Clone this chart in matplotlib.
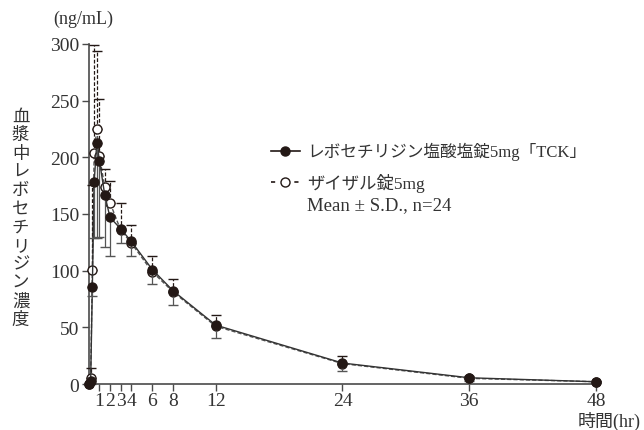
import matplotlib
matplotlib.use("Agg")
import matplotlib.pyplot as plt
import numpy as np

plt.rcParams['font.family'] = ['Liberation Serif', 'Noto Sans CJK JP']

# sampling times (hr)
times = [0, 0.17, 0.33, 0.5, 0.75, 1, 1.5, 2, 3, 4, 6, 8, 12, 24, 36, 48]

# レボセチリジン塩酸塩錠5mg「TCK」 (filled)
tck_mean = [0, 3, 86, 178, 213, 197, 167, 147, 137, 126, 101, 82, 52, 18.5, 5.5, 2]
tck_sd = [0, 3, 8, 49, 84, 67, 46, 34, 13, 13, 13, 12, 11, 7, 2.5, 1]

# ザイザル錠5mg (open)
xyzal_mean = [0, 5, 101, 204, 225, 201, 174, 160, 136, 124.5, 99, 81, 51, 18, 5, 2]
xyzal_sd = [0, 9, 75, 95, 69, 50, 16, 19, 24, 16, 14, 12, 10, 6.5, 2, 1]

xticks = [1, 2, 3, 4, 6, 8, 12, 24, 36, 48]
yticks = [0, 50, 100, 150, 200, 250, 300]

ink = '#231815'
axcol = '#4a4a4a'

fig = plt.figure(figsize=(6.44, 4.31), dpi=100)
ax = fig.add_axes([0.138, 0.1067, 0.7875, 0.789])

zeros = np.zeros(len(times))

# open series: upper SD, dashed
eb = ax.errorbar(times, xyzal_mean, yerr=[zeros, xyzal_sd], fmt='o', ms=6.5,
                 mfc='white', mec=ink, mew=1.0, ecolor=ink, elinewidth=0.9,
                 capsize=3.5, capthick=0.9, color=ink, clip_on=False, zorder=3)
for c in eb[2]:
    c.set_linestyle((0, (3, 1.5)))
    c.set_clip_on(False)
for c in eb[1]:
    c.set_clip_on(False)
ax.plot(times, xyzal_mean, ls=(0, (3, 1.5)), color='#555555', lw=1.0, zorder=2, clip_on=False)

# filled series: lower SD, solid
eb2 = ax.errorbar(times, tck_mean, yerr=[tck_sd, zeros], fmt='o', ms=6.5,
                  mfc=ink, mec=ink, mew=1.0, ecolor='#555555', elinewidth=0.9,
                  capsize=3.5, capthick=0.9, color=ink, clip_on=False, zorder=4)
for c in eb2[1]:
    c.set_clip_on(False)
ax.plot(times, tck_mean, ls='-', color='#333333', lw=1.0, zorder=3.5, clip_on=False)

ax.set_xlim(0, 48)
ax.set_ylim(0, 300)
ax.set_xticks(xticks)
ax.set_xticklabels([str(t) for t in xticks])
ax.set_yticks(yticks)
ax.set_yticklabels([str(t) for t in yticks])
for s in ['top', 'right']:
    ax.spines[s].set_visible(False)
for s in ['left', 'bottom']:
    ax.spines[s].set_color(axcol)
    ax.spines[s].set_linewidth(1.2)
ax.tick_params(axis='both', colors=axcol, labelcolor='#333333', labelsize=14,
               length=5, width=1.0, pad=2)
ax.tick_params(axis='x', pad=1)

# axis titles
fig.text(0.083, 0.955, '(ng/mL)', fontsize=13, color='#333333', ha='left', va='center')
fig.text(0.995, 0.021, '時間(hr)', fontsize=13, color='#333333', ha='right', va='center')
ylab = '血漿中レボセチリジン濃度'
for i, ch in enumerate(ylab):
    fig.text(0.032, 0.727 - i * 0.0428, ch, fontsize=12.5, color='#333333',
             ha='center', va='center')

# legend
fig.lines.append(plt.Line2D([0.421, 0.466], [0.648, 0.648], transform=fig.transFigure,
                            color=ink, lw=1.2))
fig.lines.append(plt.Line2D([0.443], [0.648], transform=fig.transFigure, marker='o',
                            ms=6.5, mfc=ink, mec=ink, color=ink))
fig.text(0.477, 0.648, 'レボセチリジン塩酸塩錠5mg「TCK」', fontsize=12, color='#333333',
         ha='left', va='center')
fig.lines.append(plt.Line2D([0.421, 0.466], [0.575, 0.575], transform=fig.transFigure,
                            color=ink, lw=1.2, ls=(0, (2.5, 4.5))))
fig.lines.append(plt.Line2D([0.443], [0.575], transform=fig.transFigure, marker='o',
                            ms=6.5, mfc='white', mec=ink, color=ink))
fig.text(0.477, 0.575, 'ザイザル錠5mg', fontsize=12.5, color='#333333', ha='left', va='center')
fig.text(0.477, 0.522, 'Mean ± S.D., n=24', fontsize=13.5, color='#333333', ha='left', va='center')

fig.savefig('out.png', dpi=100)
